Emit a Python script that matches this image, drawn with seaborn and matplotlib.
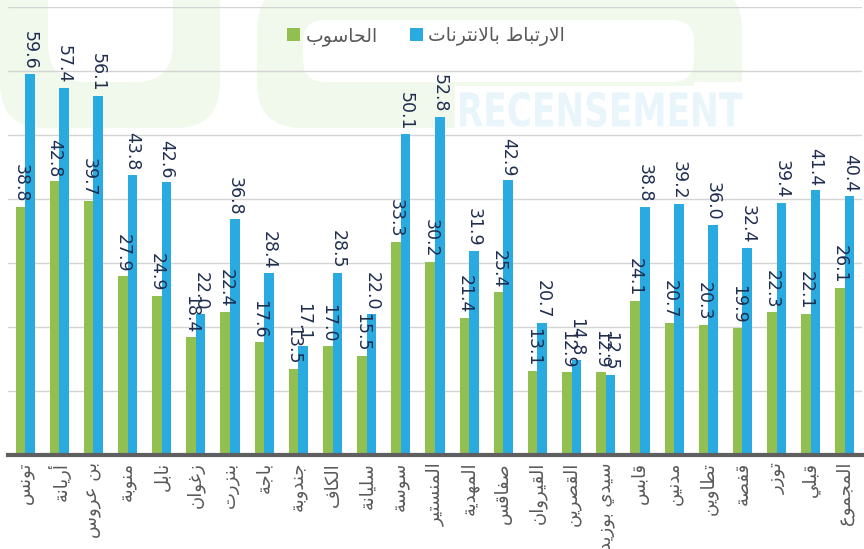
import matplotlib
matplotlib.use("Agg")
import matplotlib.pyplot as plt
from matplotlib.patches import FancyBboxPatch, PathPatch, Rectangle
from matplotlib.textpath import TextPath
from matplotlib.font_manager import FontProperties
from matplotlib.transforms import Affine2D
import pandas as pd
import seaborn as sns

# data
regions = [
    "تونس", "أريانة", "بن عروس", "منوبة", "نابل", "زغوان", "بنزرت", "باجة",
    "جندوبة", "الكاف", "سليانة", "سوسة", "المنستير", "المهدية", "صفاقس",
    "القيروان", "القصرين", "سيدي بوزيد", "قابس", "مدنين", "تطاوين", "قفصة",
    "توزر", "قبلي", "المجموع",
]
computer = [38.8, 42.8, 39.7, 27.9, 24.9, 18.4, 22.4, 17.6, 13.5, 17.0, 15.5, 33.3,
            30.2, 21.4, 25.4, 13.1, 12.9, 12.9, 24.1, 20.7, 20.3, 19.9, 22.3, 22.1, 26.1]
internet = [59.6, 57.4, 56.1, 43.8, 42.6, 22.0, 36.8, 28.4, 17.1, 28.5, 22.0, 50.1,
            52.8, 31.9, 42.9, 20.7, 14.8, 12.5, 38.8, 39.2, 36.0, 32.4, 39.4, 41.4, 40.4]
series_names = ["الحاسوب", "الارتباط بالانترنات"]
colors = ["#92c050", "#29abe2"]


# matplotlib does no arabic shaping, so pick presentation forms by hand
DUAL = {"ب": 0xFE8F, "ت": 0xFE95, "ث": 0xFE99, "ج": 0xFE9D, "ح": 0xFEA1, "خ": 0xFEA5,
        "س": 0xFEB1, "ش": 0xFEB5, "ص": 0xFEB9, "ض": 0xFEBD, "ط": 0xFEC1, "ظ": 0xFEC5,
        "ع": 0xFEC9, "غ": 0xFECD, "ف": 0xFED1, "ق": 0xFED5, "ك": 0xFED9, "ل": 0xFEDD,
        "م": 0xFEE1, "ن": 0xFEE5, "ه": 0xFEE9, "ي": 0xFEF1}
RIGHT = {"ا": 0xFE8D, "أ": 0xFE83, "إ": 0xFE87, "آ": 0xFE81, "د": 0xFEA9, "ذ": 0xFEAB,
         "ر": 0xFEAD, "ز": 0xFEAF, "و": 0xFEED, "ى": 0xFEEF, "ة": 0xFE93,
         "لا": 0xFEFB, "لأ": 0xFEF7, "لإ": 0xFEF9, "لآ": 0xFEF5}


def shape_ar(text):
    tokens = []
    i = 0
    while i < len(text):
        if text[i] == "ل" and i + 1 < len(text) and text[i + 1] in "اأإآ":
            tokens.append(text[i:i + 2])
            i += 2
        else:
            tokens.append(text[i])
            i += 1
    out = []
    for k, tok in enumerate(tokens):
        prev_join = k > 0 and tokens[k - 1] in DUAL
        nxt = tokens[k + 1] if k + 1 < len(tokens) else None
        if tok in DUAL:
            next_join = nxt is not None and (nxt in DUAL or nxt in RIGHT)
            c = DUAL[tok]
            if prev_join and next_join:
                out.append(chr(c + 3))
            elif prev_join:
                out.append(chr(c + 1))
            elif next_join:
                out.append(chr(c + 2))
            else:
                out.append(chr(c))
        elif tok in RIGHT:
            c = RIGHT[tok]
            out.append(chr(c + 1) if prev_join else chr(c))
        else:
            out.append(tok)
    return "".join(reversed(out))


labels = [shape_ar(r) for r in regions]
names = [shape_ar(n) for n in series_names]

df = pd.DataFrame({
    "region": labels * 2,
    "value": computer + internet,
    "series": [names[0]] * len(labels) + [names[1]] * len(labels),
})

sns.set_style("white")
plt.rcParams["font.family"] = ["DejaVu Sans"]

W, H = 864, 549
fig = plt.figure(figsize=(W / 100, H / 100), dpi=100)
ax = fig.add_axes([8 / W, 1 - 455 / H, 854 / W, 448 / H])
ax.patch.set_alpha(0)

# faint logo watermark, drawn in pixel coords from the top-left corner
px = Affine2D().scale(1, -1).translate(0, H).scale(1 / W, 1 / H) + fig.transFigure
wm = "#f1f8ec"


def wm_box(x0, y0, x1, y1, color, rounding=0, z=-3):
    style = f"round,pad=0,rounding_size={rounding}" if rounding else "square,pad=0"
    fig.patches.append(FancyBboxPatch((x0, y0), x1 - x0, y1 - y0, boxstyle=style,
                                      transform=px, fc=color, ec="none", zorder=z))


wm_box(0, -80, 220, 128, wm, 45)
wm_box(48, -80, 173, 82, "white", 38, -2)
wm_box(257, -15, 742, 128, wm, 45)
wm_box(303, 20, 694, 82, "white", 22, -2)
wm_box(694, 82, 750, 132, "white", 0, -2)
wm_box(455, 86, 750, 132, "white", 0, -2)

tp = TextPath((0, 0), "RECENSEMENT", size=40,
              prop=FontProperties(family="DejaVu Sans", weight="bold"))
ext = tp.get_extents()
sx = (742 - 460) / ext.width
sy = (127 - 92) / ext.height
tr = Affine2D().translate(-ext.x0, -ext.y0).scale(sx, -sy).translate(460, 127) + px
fig.patches.append(PathPatch(tp, transform=tr, fc="#e8f5fb", ec="none", zorder=-1))

sns.barplot(data=df, x="region", y="value", hue="series", palette=colors,
            width=0.56, saturation=1, linewidth=0, ax=ax, zorder=2)

for cont in ax.containers:
    ax.bar_label(cont, fmt="%.1f", rotation=270, padding=3, fontsize=12.5,
                 color="#1f2d4f")

ax.set_ylim(0, 70)
ax.set_xlim(-0.5, len(labels) - 0.5)
ax.set_yticks(range(10, 71, 10))
ax.yaxis.grid(True, color="#d4d4d4", linewidth=1)
ax.set_axisbelow(True)
ax.set_yticklabels([])
ax.tick_params(axis="y", length=0)
ax.tick_params(axis="x", length=0, pad=5, labelsize=13, labelcolor="#595959")
plt.setp(ax.get_xticklabels(), rotation=90, va="top", ha="center")
ax.set_xlabel("")
ax.set_ylabel("")
for side in ["top", "left", "right"]:
    ax.spines[side].set_visible(False)
ax.spines["bottom"].set_color("#5f5f5f")
ax.spines["bottom"].set_linewidth(3)

ax.legend(loc="center", bbox_to_anchor=(0.4895, 0.935), ncol=2, frameon=False,
          fontsize=13.5, labelcolor="#595959", handlelength=0.69, handleheight=0.69,
          handletextpad=0.3, columnspacing=1.7)

fig.savefig("out.png", dpi=100)
